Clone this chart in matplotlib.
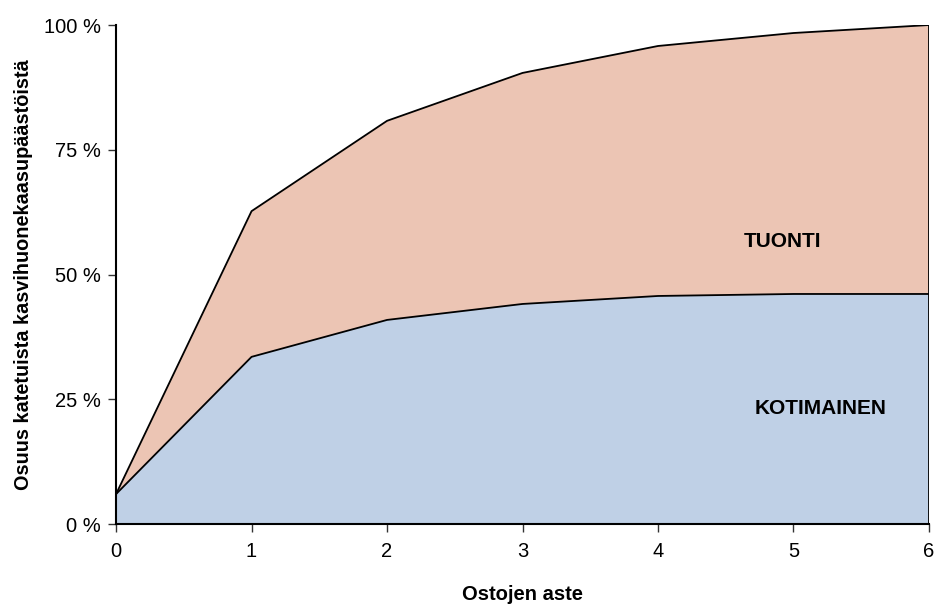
import matplotlib
matplotlib.use("Agg")
import matplotlib.pyplot as plt
from matplotlib.ticker import FuncFormatter

plt.rcParams['font.family'] = ['Liberation Sans', 'DejaVu Sans']

degree = [0, 1, 2, 3, 4, 5, 6]
domestic = [6.0, 33.5, 40.9, 44.1, 45.7, 46.1, 46.1]
total = [6.0, 62.7, 80.8, 90.4, 95.8, 98.4, 100.0]

fig = plt.figure(figsize=(9.36, 6.06), dpi=100)
ax = fig.add_axes([0.124, 0.1353, 0.8685, 0.8234])

blue = '#BFD0E6'
pink = '#ECC5B4'

ax.fill_between(degree, 0, domestic, facecolor=blue, edgecolor='none', zorder=1)
ax.fill_between(degree, domestic, total, facecolor=pink, edgecolor='none', zorder=1)
ax.plot(degree, domestic, color='black', lw=1.3, zorder=3)
ax.plot(degree, total, color='black', lw=1.3, zorder=3)
ax.plot([degree[-1], degree[-1]], [0, total[-1]], color='black', lw=1.3, zorder=3)

ax.set_xlim(0, 6)
ax.set_ylim(0, 100)
ax.set_xticks(degree)
ax.set_yticks([0, 25, 50, 75, 100])
ax.yaxis.set_major_formatter(FuncFormatter(lambda v, p: f"{int(v)} %"))

for s in ['top', 'right']:
    ax.spines[s].set_visible(False)
for s in ['left', 'bottom']:
    ax.spines[s].set_linewidth(1.5)
    ax.spines[s].set_zorder(4)

ax.tick_params(axis='both', direction='out', length=6, width=1, labelsize=14.5, color='#333333')
ax.tick_params(axis='x', pad=7)
ax.tick_params(axis='y', pad=5)

ax.set_xlabel('Ostojen aste', fontsize=14.5, fontweight='bold', labelpad=17)
ax.set_ylabel('Osuus katetuista kasvihuonekaasupäästöistä', fontsize=14.3, fontweight='bold', labelpad=8)

ax.text(4.92, 56.7, 'TUONTI', fontsize=15, fontweight='bold', ha='center', va='center', zorder=5)
ax.text(5.2, 23.2, 'KOTIMAINEN', fontsize=15, fontweight='bold', ha='center', va='center', zorder=5)

fig.savefig('out.png', dpi=100)
